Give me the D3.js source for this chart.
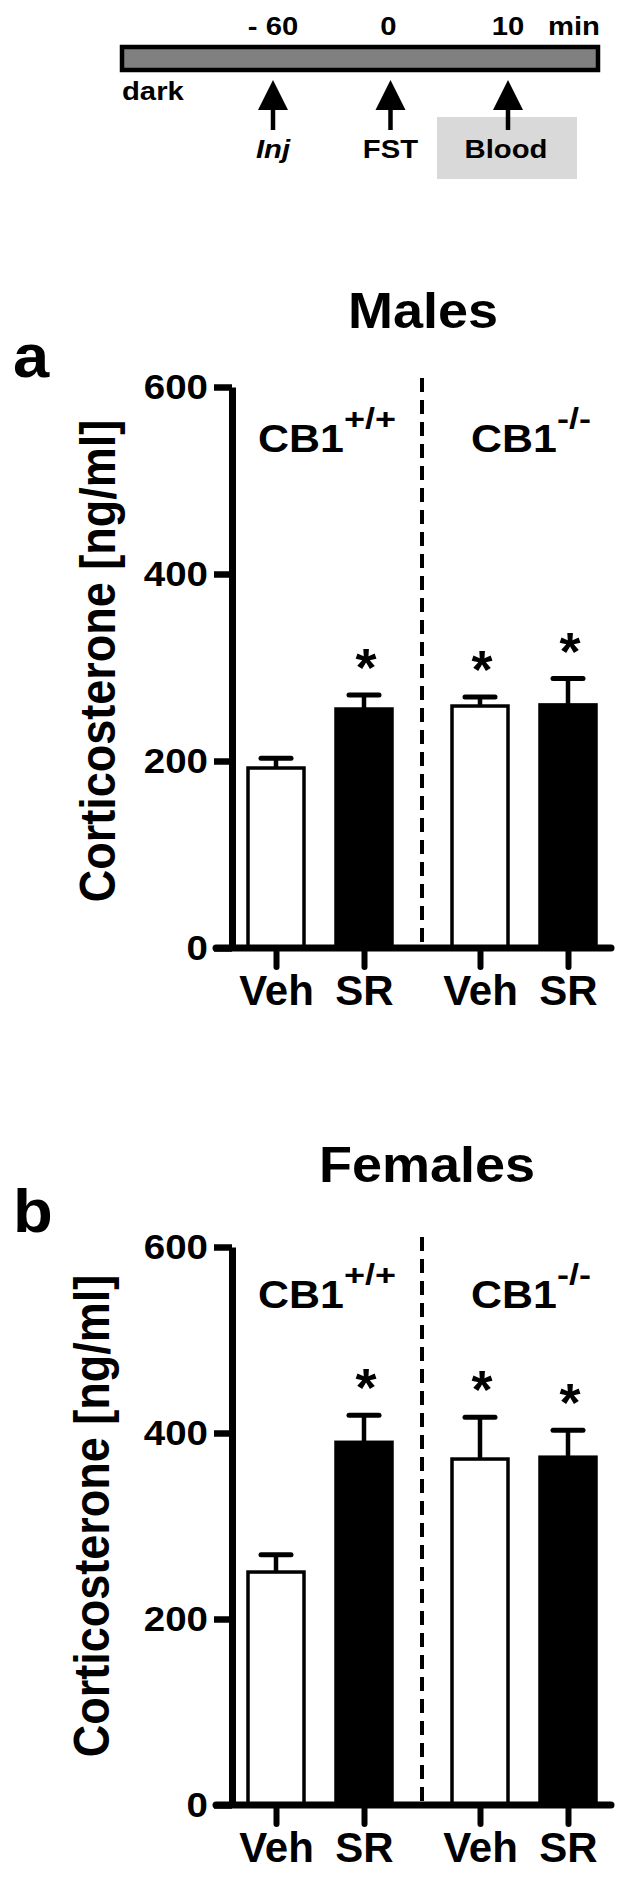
<!DOCTYPE html>
<html><head><meta charset="utf-8">
<script src="https://cdn.jsdelivr.net/npm/d3@7"></script>
<style>
body{margin:0;background:#fff}
svg{display:block}
text{font-family:"Liberation Sans",Arial,Helvetica,sans-serif;font-weight:bold;fill:#000}
</style>
</head><body>
<svg id="c" width="619" height="1880"></svg>
<script>
// ---------- data ----------
const timeLabels = ["- 60", "0", "10"];
const timeUnit = "min";
const timeEvents = ["Inj", "FST", "Blood"];
const genotypes = ["CB1+/+", "CB1-/-"];
const treatments = ["Veh", "SR"];
const yTicks = [0, 200, 400, 600];
// order: CB1+/+ Veh, CB1+/+ SR, CB1-/- Veh, CB1-/- SR
const malesMean = [192.5, 255.6, 258.8, 260];
const malesSEM = [10.5, 15, 9.7, 28.2];
const malesSig = [false, true, true, true];
const femalesMean = [250.5, 390, 372, 374];
const femalesSEM = [18.5, 29, 45, 29];
const femalesSig = [false, true, true, true];
const yLabel = "Corticosterone [ng/ml]";

const svg = d3.select("#c");

function stretch(sel, sx) {
  sel.each(function () {
    const L = this.getComputedTextLength();
    d3.select(this).attr("textLength", L * sx).attr("lengthAdjust", "spacingAndGlyphs");
  });
}

// ---------- timeline ----------
const tl = svg.append("g");
const tx = d3.scalePoint().domain(timeLabels).range([273, 508]);
tl.append("rect").attr("x", 122).attr("y", 47).attr("width", 476).attr("height", 23)
  .attr("fill", "#808080").attr("stroke", "#000").attr("stroke-width", 4.5);
tl.append("rect").attr("x", 437).attr("y", 117).attr("width", 140).attr("height", 62)
  .attr("fill", "#d9d9d9");
tl.selectAll("text.tl").data(timeLabels).join("text").attr("class", "tl")
  .attr("x", d => tx(d) - (d === "0" ? 2 : 0)).attr("y", 35).attr("text-anchor", "middle")
  .attr("font-size", 25).text(d => d).call(stretch, 1.17);
tl.append("text").attr("x", 574).attr("y", 35).attr("text-anchor", "middle")
  .attr("font-size", 25).text(timeUnit).call(stretch, 1.17);
tl.append("text").attr("x", 122).attr("y", 100).attr("font-size", 25).text("dark").call(stretch, 1.17);
timeLabels.forEach((t, i) => {
  const x = tx(t);
  tl.append("path").attr("d", `M${x},80L${x - 15},110L${x + 15},110Z`).attr("fill", "#000");
  tl.append("line").attr("x1", x).attr("x2", x).attr("y1", 108).attr("y2", 130)
    .attr("stroke", "#000").attr("stroke-width", 4.5);
  tl.append("text").attr("x", x - (i === 2 ? 2 : 0)).attr("y", 158).attr("text-anchor", "middle")
    .attr("font-size", 25).attr("font-style", i === 0 ? "italic" : "normal")
    .text(timeEvents[i]).call(stretch, 1.17);
});

// ---------- panels ----------
function panel(cfg) {
  const g = svg.append("g");
  const y = d3.scaleLinear().domain([0, 600]).range([cfg.y0, cfg.y600]);
  const gx = d3.scaleBand().domain(genotypes).range([218, 626]);
  const trx = d3.scalePoint().domain(treatments).range([58, 146]);
  const keys = [], pos = [];
  genotypes.forEach(gg => treatments.forEach(t => { keys.push(gg + "|" + t); pos.push(gx(gg) + trx(t)); }));
  const x = d3.scaleOrdinal().domain(keys).range(pos);
  const rows = keys.map((k, i) => ({ k, i, m: cfg.mean[i], s: cfg.sem[i], sig: cfg.sig[i] }));

  // letter + title
  g.append("text").attr("x", 13).attr("y", cfg.letterY).attr("font-size", 62).text(cfg.letter)
    .call(stretch, 1.05);
  g.append("text").attr("x", cfg.titleX).attr("y", cfg.titleY).attr("text-anchor", "middle")
    .attr("font-size", 50).text(cfg.title).call(stretch, 1.08);

  // y label
  g.append("text").attr("transform", `translate(${cfg.labelX},${cfg.labelY}) scale(1.12,1) rotate(-90)`)
    .attr("text-anchor", "middle").attr("font-size", 45).text(yLabel);

  // dashed divider
  g.append("line").attr("x1", gx(genotypes[1])).attr("x2", gx(genotypes[1]))
    .attr("y1", cfg.dashTop).attr("y2", y(0))
    .attr("stroke", "#000").attr("stroke-width", 4).attr("stroke-dasharray", "14,8");

  // genotype labels
  genotypes.forEach(gg => {
    const t = g.append("text").attr("x", gx(gg) + gx.bandwidth() / 2 + 7).attr("y", cfg.cbY)
      .attr("text-anchor", "middle").attr("font-size", 38);
    t.append("tspan").text("CB1").call(stretch, 1.13);
    t.append("tspan").attr("dy", -23).attr("font-size", 30).text(gg.slice(3)).call(stretch, 1.2);
  });

  // bars
  g.selectAll("rect.bar").data(rows).join("rect").attr("class", "bar")
    .attr("x", d => x(d.k) - 28).attr("width", 56)
    .attr("y", d => y(d.m)).attr("height", d => y(0) - y(d.m))
    .attr("fill", d => d.k.endsWith("Veh") ? "#fff" : "#000")
    .attr("stroke", "#000").attr("stroke-width", 3.5);

  // error bars
  g.selectAll("line.eb").data(rows).join("line").attr("class", "eb")
    .attr("x1", d => x(d.k)).attr("x2", d => x(d.k))
    .attr("y1", d => y(d.m)).attr("y2", d => y(d.m + d.s))
    .attr("stroke", "#000").attr("stroke-width", 4.5);
  g.selectAll("line.cap").data(rows).join("line").attr("class", "cap")
    .attr("x1", d => x(d.k) - 15).attr("x2", d => x(d.k) + 15)
    .attr("y1", d => y(d.m + d.s)).attr("y2", d => y(d.m + d.s))
    .attr("stroke", "#000").attr("stroke-width", 5).attr("stroke-linecap", "round");

  // significance stars
  g.selectAll("text.star").data(rows.filter(d => d.sig)).join("text").attr("class", "star")
    .attr("x", d => x(d.k) + 2).attr("y", d => y(d.m + d.s) - 9)
    .attr("text-anchor", "middle").attr("font-size", 54).text("*");

  // y axis
  const ya = g.append("g").attr("transform", "translate(232,0)")
    .call(d3.axisLeft(y).tickValues(yTicks).tickSize(18).tickPadding(6).tickSizeOuter(0));
  ya.select(".domain").attr("stroke-width", 7).attr("stroke", "#000");
  ya.selectAll(".tick line").attr("stroke-width", 6.5).attr("stroke", "#000");
  ya.selectAll(".tick text").attr("font-size", 35).attr("font-family", null).attr("fill", "#000")
    .call(stretch, 1.1);

  // x axis
  const xa = g.append("g").attr("transform", `translate(0,${y(0)})`)
    .call(d3.axisBottom(x).tickSize(19).tickPadding(8).tickSizeOuter(0).tickFormat(d => d.split("|")[1]));
  xa.select(".domain").remove();
  xa.selectAll(".tick line").attr("stroke-width", 6).attr("stroke", "#000").attr("stroke-linecap", "round");
  xa.selectAll(".tick text").attr("font-size", 42).attr("font-family", null).attr("fill", "#000");
  g.append("line").attr("x1", 216).attr("x2", 611).attr("y1", y(0)).attr("y2", y(0))
    .attr("stroke", "#000").attr("stroke-width", 7).attr("stroke-linecap", "round");
}

panel({ letter: "a", letterY: 377, title: "Males", titleX: 423, titleY: 328, y0: 948, y600: 387,
  mean: malesMean, sem: malesSEM, sig: malesSig, labelX: 115, labelY: 661, dashTop: 378, cbY: 452 });
panel({ letter: "b", letterY: 1232, title: "Females", titleX: 427, titleY: 1182, y0: 1805, y600: 1247,
  mean: femalesMean, sem: femalesSEM, sig: femalesSig, labelX: 109, labelY: 1516, dashTop: 1237, cbY: 1308 });
</script>
</body></html>
